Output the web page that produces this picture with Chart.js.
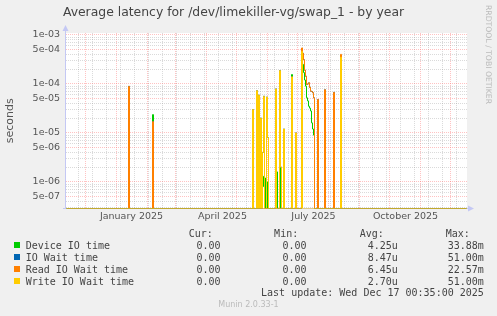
<!DOCTYPE html>
<html>
<head>
<meta charset="utf-8">
<title>Average latency for /dev/limekiller-vg/swap_1 - by year</title>
<script src="https://cdn.jsdelivr.net/npm/chart.js@4/dist/chart.umd.min.js"></script>
<style>
  html, body { margin: 0; padding: 0; background: #f0f0f0; }
  #wrap { position: relative; width: 497px; height: 316px; overflow: hidden; }
  #chart { position: absolute; left: 0; top: 0; }
  .lg { position: absolute; font-family: 'DejaVu Sans Mono', monospace; font-size: 10px; line-height: 12px; color: #444; white-space: pre; }
  .box { position: absolute; width: 6px; height: 6px; }
  #munin { position: absolute; left: 0; width: 497px; top: 300px; text-align: center; font: 8px/10px 'DejaVu Sans', sans-serif; color: #bbb; }
  #rrd { position: absolute; left: 484px; top: 5px; writing-mode: vertical-rl; font: 7.7px/8px 'DejaVu Sans', sans-serif; color: #bbb; }
</style>
</head>
<body>
<div id="wrap">
  <canvas id="chart" width="497" height="316"></canvas>
  <div id="legend"></div>
  <div id="munin">Munin 2.0.33-1</div>
  <div id="rrd">RRDTOOL / TOBI OETIKER</div>
</div>
<script>
// Day numbers are counted from 1 January 2025 (day 0), one point per day
const dayFirst = -50;
const dayLast = 350;

// [day, seconds] for every day that is not zero
const deviceIO = [
  [12, 2e-6], [36, 2.36e-5],
  [136, 1e-6], [140, 1.2e-6], [142, 1e-6], [144, 9e-7], [146, 1.3e-6], [147, 8e-7], [148, 1.2e-6],
  [150, 1e-6], [159, 1.5e-6], [160, 1.6e-6], [163, 2e-6], [167, 1e-6], [175, 1.55e-4], [179, 4e-7],
  [185, 3.5e-4], [186, 2.5e-4], [187, 1.7e-4], [188, 1.2e-4], [189, 9e-5], [190, 5.2e-5], [191, 4.5e-5],
  [192, 3.5e-5], [193, 3.2e-5], [194, 2.8e-5], [195, 1.6e-5], [196, 1.2e-5], [197, 9e-6],
  [201, 2e-6], [208, 2e-6], [217, 2e-6], [224, 3e-6]
];
const ioWait = [
  [12, 8.9e-5], [36, 1.7e-5],
  [136, 3.0e-5], [140, 7.3e-5], [142, 5.9e-5], [144, 2.0e-5], [146, 4e-6], [147, 5.6e-5], [150, 5.4e-5],
  [151, 8e-6], [159, 7.9e-5], [163, 1.87e-4], [164, 2e-6], [167, 1.2e-5], [175, 1.4e-4], [179, 1e-5],
  [185, 5.2e-4], [186, 4.2e-4], [187, 3.1e-4], [188, 1.9e-4], [189, 1.43e-4], [190, 9.7e-5], [191, 1.0e-4],
  [192, 1.05e-4], [193, 8.5e-5], [194, 7.1e-5], [195, 7.0e-5], [196, 6.6e-5], [197, 5.2e-5],
  [201, 4.8e-5], [208, 7.6e-5], [217, 6.7e-5], [224, 3.8e-4]
];
const readWait = [
  [12, 8.9e-5], [36, 1.7e-5], [175, 3e-6],
  [185, 5.4e-4], [186, 4.2e-4], [187, 3.1e-4], [188, 1.9e-4], [189, 1.43e-4], [190, 9.7e-5], [191, 1.0e-4],
  [192, 1.05e-4], [193, 8.5e-5], [194, 7.1e-5], [195, 7.0e-5], [196, 6.6e-5], [197, 5.2e-5],
  [201, 4.8e-5], [208, 7.6e-5], [217, 6.7e-5], [224, 4.0e-4]
];
const writeWait = [
  [136, 3.0e-5], [140, 7.3e-5], [142, 5.9e-5], [144, 2.0e-5], [146, 4e-6], [147, 5.6e-5], [150, 5.4e-5],
  [151, 8e-6], [159, 7.9e-5], [163, 1.87e-4], [164, 2e-6], [167, 1.2e-5], [175, 1.4e-4], [179, 1e-5],
  [185, 4.6e-4], [224, 3.5e-4]
];

const seriesNames = ['Device IO time', 'IO Wait time', 'Read IO Wait time', 'Write IO Wait time'];
const seriesColors = ['#00cc00', '#0066b3', '#ff8000', '#ffcc00'];
const curValues = ['0.00', '0.00', '0.00', '0.00'];
const minValues = ['0.00', '0.00', '0.00', '0.00'];
const avgValues = ['4.25u', '8.47u', '6.45u', '2.70u'];
const maxValues = ['33.88m', '51.00m', '22.57m', '51.00m'];
const lastUpdate = 'Last update: Wed Dec 17 00:35:00 2025';

// x axis: month starts (red grid), two-week grid (grey), label days
const monthStartDays = [-31, 0, 31, 59, 90, 120, 151, 181, 212, 243, 273, 304, 334];
const minorGridDays = [-38, -24, -10, 4, 18, 32, 46, 60, 74, 88, 102, 116, 130, 144, 158, 172, 186, 200, 214, 228, 242, 256, 270, 284, 298, 312, 326, 340];
const monthLabelDays = [15, 106, 197, 289];
const monthLabels = ['January 2025', 'April 2025', 'July 2025', 'October 2025'];

// y axis (log)
const yMin = 2.865e-7;
const yMax = 1.093e-3;
const yTickLabels = ['5e-07', '1e-06', '5e-06', '1e-05', '5e-05', '1e-04', '5e-04', '1e-03'];

const redGrid = 'rgba(255, 110, 110, 0.42)';
const greyGrid = 'rgba(150, 150, 150, 0.35)';
const axisColor = '#c4c8f4';

function dailySeries(pairs) {
    const lookup = new Map(pairs);
    const out = [];
    for (let d = dayFirst; d <= dayLast; d++) {
        const v = lookup.has(d) ? lookup.get(d) : 0;
        // zero sits on the bottom of the log axis
        out.push({ x: d, y: Math.max(v, yMin) });
    }
    return out;
}

function yMajorLabel(v) {
    return yTickLabels.find(s => Math.abs(Number(s) - v) / v < 1e-6);
}

const yGridValues = [];
for (let e = -7; e <= -3; e++) {
    for (let m = 1; m <= 9; m++) {
        const v = m * Math.pow(10, e);
        if (v >= yMin && v <= yMax) yGridValues.push(v);
    }
}

const seriesData = [deviceIO, ioWait, readWait, writeWait];
const datasets = seriesData.map((pairs, i) => ({
    label: seriesNames[i],
    data: dailySeries(pairs),
    borderColor: seriesColors[i],
    backgroundColor: seriesColors[i],
    borderWidth: 1,
    pointRadius: 0,
    stepped: true,
    fill: false,
    order: 4 - i
}));

// white plot area, axis lines and arrows
const plotDecor = {
    id: 'plotDecor',
    beforeDraw(chart) {
        const { ctx, chartArea: a } = chart;
        ctx.save();
        ctx.fillStyle = '#ffffff';
        ctx.fillRect(a.left, a.top, a.right - a.left, a.bottom - a.top);
        ctx.restore();
    },
    beforeDatasetsDraw(chart) {
        const { ctx, chartArea: a } = chart;
        ctx.save();
        ctx.strokeStyle = axisColor;
        ctx.lineWidth = 1;
        ctx.beginPath();
        ctx.moveTo(a.left - 0.5, a.top - 4);
        ctx.lineTo(a.left - 0.5, a.bottom);
        ctx.moveTo(a.left - 3, a.bottom);
        ctx.lineTo(a.right + 4, a.bottom);
        ctx.stroke();
        ctx.restore();
    },
    afterDraw(chart) {
        const { ctx, chartArea: a } = chart;
        ctx.save();
        ctx.fillStyle = axisColor;
        ctx.beginPath();
        ctx.moveTo(a.left - 0.5, a.top - 8);
        ctx.lineTo(a.left - 3.5, a.top - 2);
        ctx.lineTo(a.left + 2.5, a.top - 2);
        ctx.closePath();
        ctx.fill();
        ctx.beginPath();
        ctx.moveTo(a.right + 7, a.bottom);
        ctx.lineTo(a.right + 1, a.bottom - 3);
        ctx.lineTo(a.right + 1, a.bottom + 3);
        ctx.closePath();
        ctx.fill();
        ctx.restore();
    }
};

new Chart(document.getElementById('chart'), {
    type: 'line',
    data: { datasets },
    plugins: [plotDecor],
    options: {
        responsive: false,
        devicePixelRatio: 1,
        animation: false,
        events: [],
        layout: { padding: { left: 0, right: 30, top: 0, bottom: 87.5 } },
        plugins: {
            legend: { display: false },
            tooltip: { enabled: false },
            title: {
                display: true,
                text: 'Average latency for /dev/limekiller-vg/swap_1 - by year',
                color: '#444',
                font: { family: 'DejaVu Sans', size: 12.4, weight: 'normal' },
                padding: { top: 5.4, bottom: 12.7 }
            }
        },
        scales: {
            x: {
                type: 'linear',
                // half-day offset puts the step edges on pixel centres
                min: dayFirst - 0.5,
                max: dayLast + 0.5,
                bounds: 'data',
                afterBuildTicks: axis => {
                    const vals = [...monthStartDays, ...minorGridDays, ...monthLabelDays];
                    axis.ticks = vals.map(v => ({ value: v }));
                },
                afterFit: scale => { scale.height = 20; },
                grid: {
                    drawTicks: false,
                    lineWidth: 1,
                    color: ctx => {
                        const v = ctx.tick ? ctx.tick.value : null;
                        if (monthStartDays.includes(v)) return redGrid;
                        if (minorGridDays.includes(v)) return greyGrid;
                        return 'rgba(0,0,0,0)';
                    }
                },
                border: { display: false, dash: [1, 1] },
                ticks: {
                    autoSkip: false,
                    maxRotation: 0,
                    padding: 2.5,
                    color: '#555',
                    font: { family: 'DejaVu Sans', size: 9.5 },
                    callback: v => {
                        const i = monthLabelDays.indexOf(v);
                        return i >= 0 ? monthLabels[i] : '';
                    }
                }
            },
            y: {
                type: 'logarithmic',
                min: yMin,
                max: yMax,
                bounds: 'data',
                afterBuildTicks: axis => {
                    axis.ticks = yGridValues.map(v => ({ value: v }));
                },
                afterFit: scale => { scale.width = 66; },
                grid: {
                    drawTicks: false,
                    lineWidth: 1,
                    color: ctx => (ctx.tick && yMajorLabel(ctx.tick.value) ? redGrid : greyGrid)
                },
                border: { display: false, dash: [1, 1] },
                title: {
                    display: true,
                    text: 'seconds',
                    color: '#555',
                    font: { family: 'DejaVu Sans', size: 11 },
                    padding: { top: 4, bottom: 0 }
                },
                ticks: {
                    autoSkip: false,
                    padding: 6,
                    color: '#555',
                    font: { family: 'DejaVu Sans', size: 9.5 },
                    callback: v => yMajorLabel(v) || ''
                }
            }
        }
    }
});

// legend table under the plot
const legend = document.getElementById('legend');
function addText(text, left, right, top) {
    const el = document.createElement('div');
    el.className = 'lg';
    el.textContent = text;
    if (left !== null) el.style.left = left + 'px';
    if (right !== null) el.style.right = (497 - right) + 'px';
    el.style.top = top + 'px';
    legend.appendChild(el);
}
const colRight = [220.5, 306.5, 397.8, 483.8];
const headRight = [212.8, 298.2, 383.8, 469.8];
['Cur:', 'Min:', 'Avg:', 'Max:'].forEach((h, j) => addText(h, null, headRight[j], 228));
seriesNames.forEach((name, i) => {
    const top = 240 + 12 * i;
    const box = document.createElement('div');
    box.className = 'box';
    box.style.left = '14px';
    box.style.top = (top + 2.3) + 'px';
    box.style.background = seriesColors[i];
    legend.appendChild(box);
    addText(name, 25.7, null, top);
    [curValues, minValues, avgValues, maxValues].forEach((col, j) => addText(col[i], null, colRight[j], top));
});
addText(lastUpdate, null, 483.8, 286.5);
</script>
</body>
</html>
